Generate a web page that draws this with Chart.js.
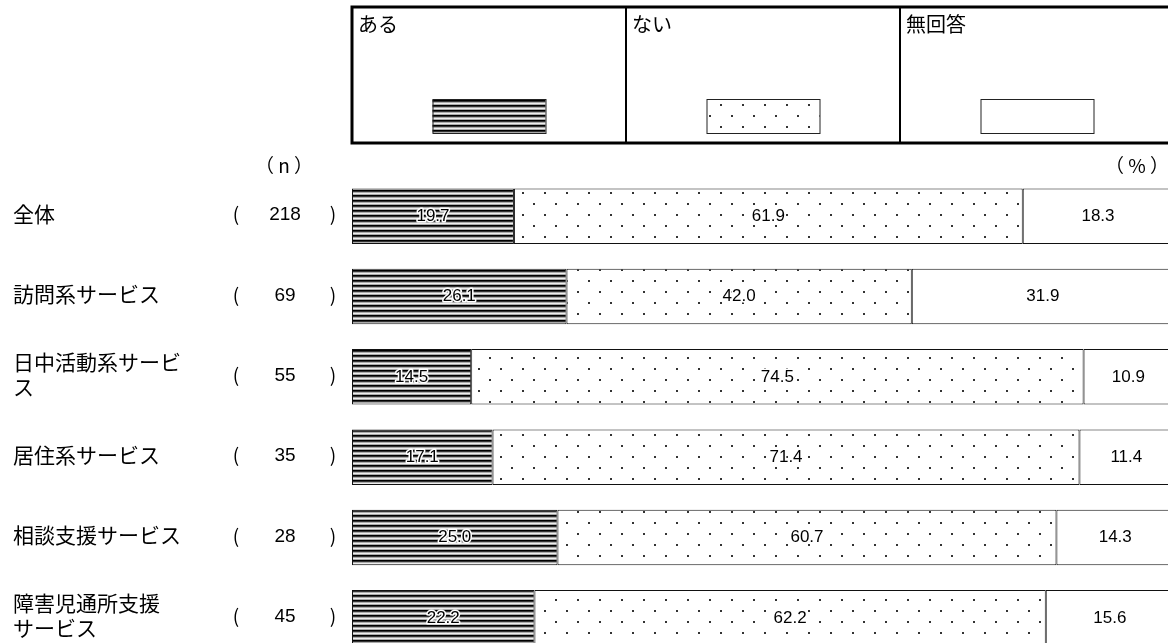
<!DOCTYPE html>
<html lang="ja">
<head>
<meta charset="utf-8">
<script src="https://cdn.jsdelivr.net/npm/chart.js@4.4.1/dist/chart.umd.min.js"></script>
<style>
  html, body { margin: 0; padding: 0; background: #fff; overflow: hidden; }
  #wrap { width: 1168px; height: 643px; overflow: hidden; position: relative; }
  canvas { display: block; }
</style>
</head>
<body>
<div id="wrap"><canvas id="chart" width="1180" height="680"></canvas></div>
<script>
// data
const categories = [
    ['全体'],
    ['訪問系サービス'],
    ['日中活動系サービ', 'ス'],
    ['居住系サービス'],
    ['相談支援サービス'],
    ['障害児通所支援', 'サービス']
];
const nValues = [218, 69, 55, 35, 28, 45];
const seriesNames = ['ある', 'ない', '無回答'];
const aruValues = [19.7, 26.1, 14.5, 17.1, 25.0, 22.2];
const naiValues = [61.9, 42.0, 74.5, 71.4, 60.7, 62.2];
const noAnswerValues = [18.3, 31.9, 10.9, 11.4, 14.3, 15.6];

const JP_FONT = '"Noto Sans CJK JP", "Noto Sans", sans-serif';
const NUM_FONT = '"Liberation Sans", Arial, sans-serif';

// Pattern helpers
const makeStripes = () => {
    const c = document.createElement('canvas');
    c.width = 8; c.height = 5;
    const g = c.getContext('2d');
    ['#000', '#333', '#aaa', '#eee', '#aaa'].forEach((col, i) => {
        g.fillStyle = col;
        g.fillRect(0, i, 8, 1);
    });
    return g.createPattern(c, 'repeat');
};

const makeDots = () => {
    const c = document.createElement('canvas');
    c.width = 22; c.height = 22;
    const g = c.getContext('2d');
    g.fillStyle = '#fff';
    g.fillRect(0, 0, 22, 22);
    g.fillStyle = '#333';
    g.fillRect(5, 5, 2, 2);
    g.fillRect(16, 16, 2, 2);
    return g.createPattern(c, 'repeat');
};

const stripes = makeStripes();
const dots = makeDots();
const fills = [stripes, dots, '#fff'];

// Legend box, headers, row labels and segment values
const decorations = {
    id: 'decorations',
    afterDraw(chart) {
        const ctx = chart.ctx;
        const yScale = chart.scales.y;
        ctx.save();

        // legend box
        const boxLeft = 352, boxTop = 7, boxBottom = 143, cellW = 274;
        ctx.strokeStyle = '#000';
        ctx.lineWidth = 3;
        ctx.strokeRect(boxLeft, boxTop, 1300, boxBottom - boxTop);
        ctx.lineWidth = 2;
        [1, 2].forEach(i => {
            ctx.beginPath();
            ctx.moveTo(boxLeft + cellW * i, boxTop);
            ctx.lineTo(boxLeft + cellW * i, boxBottom);
            ctx.stroke();
        });
        seriesNames.forEach((name, i) => {
            const cx = boxLeft + cellW * i;
            ctx.fillStyle = '#000';
            ctx.font = `20px ${JP_FONT}`;
            ctx.textAlign = 'left';
            ctx.textBaseline = 'middle';
            ctx.fillText(name, cx + 6, 24);
            const sw = 113, sx = cx + cellW / 2 - sw / 2;
            ctx.fillStyle = fills[i];
            ctx.fillRect(sx, 99, sw, 34);
            ctx.lineWidth = 1;
            ctx.strokeStyle = '#222';
            ctx.strokeRect(sx + 0.5, 99.5, sw, 34);
        });

        // headers
        ctx.fillStyle = '#000';
        ctx.font = `19px ${JP_FONT}`;
        ctx.textAlign = 'center';
        ctx.textBaseline = 'middle';
        ctx.fillText('（ n ）', 284, 166);
        ctx.fillText('（ % ）', 1137, 166);

        // row labels and n
        categories.forEach((lines, i) => {
            const y = yScale.getPixelForValue(i) - 2;
            ctx.font = `21px ${JP_FONT}`;
            ctx.textAlign = 'left';
            const lh = 25;
            lines.forEach((line, j) => {
                ctx.fillText(line, 13, y + (j - (lines.length - 1) / 2) * lh);
            });
            ctx.font = `19px ${JP_FONT}`;
            ctx.textAlign = 'center';
            ctx.fillText('(', 236, y);
            ctx.fillText(')', 333, y);
            ctx.font = `19px ${NUM_FONT}`;
            ctx.fillText(String(nValues[i]), 285, y + 1);
        });

        // segment values
        ctx.font = `17px ${NUM_FONT}`;
        ctx.textAlign = 'center';
        ctx.textBaseline = 'middle';
        ctx.lineJoin = 'round';
        chart.data.datasets.forEach((ds, di) => {
            chart.getDatasetMeta(di).data.forEach((bar, i) => {
                const left = Math.min(bar.x, bar.base);
                const right = Math.max(bar.x, bar.base);
                const x = (left + right) / 2;
                const txt = ds.data[i].toFixed(1);
                if (di < 2) {
                    ctx.strokeStyle = '#fff';
                    ctx.lineWidth = 3;
                    ctx.strokeText(txt, x, bar.y);
                }
                ctx.fillStyle = '#000';
                ctx.fillText(txt, x, bar.y);
            });
        });
        ctx.restore();
    }
};

const makeDataset = (label, data, bg) => ({
    label,
    data,
    backgroundColor: bg,
    borderColor: '#111',
    borderWidth: 1,
    borderSkipped: false,
    barPercentage: 0.69,
    categoryPercentage: 1
});

new Chart(document.getElementById('chart'), {
    type: 'bar',
    data: {
        labels: categories,
        datasets: [
            makeDataset(seriesNames[0], aruValues, stripes),
            makeDataset(seriesNames[1], naiValues, dots),
            makeDataset(seriesNames[2], noAnswerValues, '#fff')
        ]
    },
    options: {
        indexAxis: 'y',
        responsive: false,
        animation: false,
        layout: { padding: { left: 352, right: 6, top: 176, bottom: 22 } },
        plugins: {
            legend: { display: false },
            tooltip: { enabled: false }
        },
        scales: {
            x: { stacked: true, min: 0, max: 100, display: false },
            y: { stacked: true, display: false }
        }
    },
    plugins: [decorations]
});
</script>
</body>
</html>
